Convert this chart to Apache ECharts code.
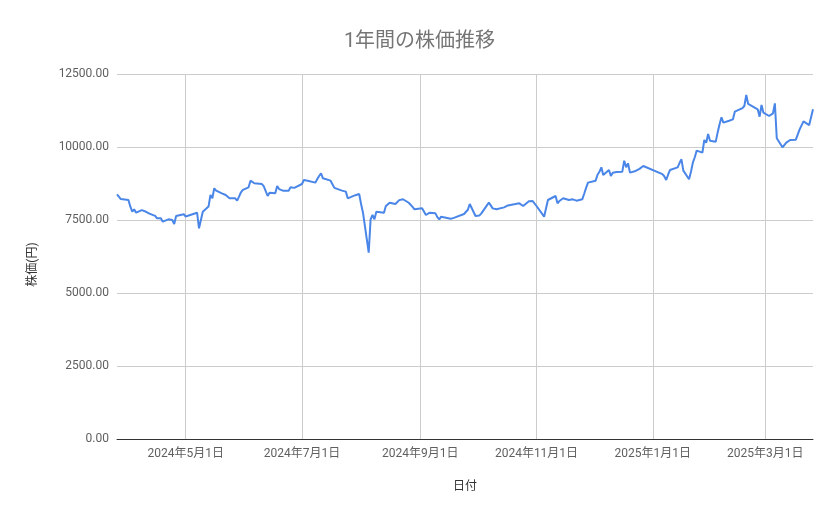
<!DOCTYPE html>
<html>
<head>
<meta charset="utf-8">
<script src="https://cdn.jsdelivr.net/npm/echarts@6/dist/echarts.min.js"></script>
<style>
html,body{margin:0;padding:0;background:#fff;}
#chart{width:839px;height:519px;}
</style>
</head>
<body>
<div id="chart"></div>
<script>
const titleText = '1年間の株価推移';
const xAxisName = '日付';
const yAxisName = '株価(円)';
const yTicks = [0, 2500, 5000, 7500, 10000, 12500];
const xTickDates = ['2024-05-01','2024-07-01','2024-09-01','2024-11-01','2025-01-01','2025-03-01'];
const xRange = ['2024-03-26','2025-03-26'];

const dates = [
'2024-03-26','2024-03-27','2024-03-28','2024-03-29','2024-04-01','2024-04-02','2024-04-03','2024-04-04','2024-04-05',
'2024-04-08','2024-04-09','2024-04-10','2024-04-11','2024-04-12','2024-04-15','2024-04-16','2024-04-17','2024-04-18','2024-04-19',
'2024-04-22','2024-04-23','2024-04-24','2024-04-25','2024-04-26','2024-04-30','2024-05-01','2024-05-02',
'2024-05-07','2024-05-08','2024-05-09','2024-05-10','2024-05-13','2024-05-14','2024-05-15','2024-05-16','2024-05-17',
'2024-05-20','2024-05-21','2024-05-22','2024-05-23','2024-05-24','2024-05-27','2024-05-28','2024-05-29','2024-05-30','2024-05-31',
'2024-06-03','2024-06-04','2024-06-05','2024-06-06','2024-06-07','2024-06-10','2024-06-11','2024-06-12','2024-06-13','2024-06-14',
'2024-06-17','2024-06-18','2024-06-19','2024-06-20','2024-06-21','2024-06-24','2024-06-25','2024-06-26','2024-06-27','2024-06-28',
'2024-07-01','2024-07-02','2024-07-03','2024-07-04','2024-07-05','2024-07-08','2024-07-09','2024-07-10','2024-07-11','2024-07-12',
'2024-07-16','2024-07-17','2024-07-18','2024-07-19','2024-07-22','2024-07-23','2024-07-24','2024-07-25','2024-07-26',
'2024-07-29','2024-07-30','2024-07-31','2024-08-01','2024-08-02','2024-08-05','2024-08-06','2024-08-07','2024-08-08','2024-08-09',
'2024-08-13','2024-08-14','2024-08-15','2024-08-16','2024-08-19','2024-08-20','2024-08-21','2024-08-22','2024-08-23',
'2024-08-26','2024-08-27','2024-08-28','2024-08-29','2024-08-30','2024-09-02','2024-09-03','2024-09-04','2024-09-05','2024-09-06',
'2024-09-09','2024-09-10','2024-09-11','2024-09-12','2024-09-13','2024-09-17','2024-09-18','2024-09-19','2024-09-20',
'2024-09-24','2024-09-25','2024-09-26','2024-09-27','2024-09-30','2024-10-01','2024-10-02','2024-10-03','2024-10-04',
'2024-10-07','2024-10-08','2024-10-09','2024-10-10','2024-10-11','2024-10-15','2024-10-16','2024-10-17','2024-10-18',
'2024-10-21','2024-10-22','2024-10-23','2024-10-24','2024-10-25','2024-10-28','2024-10-29','2024-10-30','2024-10-31','2024-11-01',
'2024-11-05','2024-11-06','2024-11-07','2024-11-08','2024-11-11','2024-11-12','2024-11-13','2024-11-14','2024-11-15',
'2024-11-18','2024-11-19','2024-11-20','2024-11-21','2024-11-22','2024-11-25','2024-11-26','2024-11-27','2024-11-28','2024-11-29',
'2024-12-02','2024-12-03','2024-12-04','2024-12-05','2024-12-06','2024-12-09','2024-12-10','2024-12-11','2024-12-12','2024-12-13',
'2024-12-16','2024-12-17','2024-12-18','2024-12-19','2024-12-20','2024-12-23','2024-12-24','2024-12-25','2024-12-26','2024-12-27',
'2025-01-06','2025-01-07','2025-01-08','2025-01-09','2025-01-10','2025-01-14','2025-01-15','2025-01-16','2025-01-17',
'2025-01-20','2025-01-21','2025-01-22','2025-01-23','2025-01-24','2025-01-27','2025-01-28','2025-01-29','2025-01-30','2025-01-31',
'2025-02-03','2025-02-04','2025-02-05','2025-02-06','2025-02-07','2025-02-10','2025-02-12','2025-02-13','2025-02-14',
'2025-02-17','2025-02-18','2025-02-19','2025-02-20','2025-02-21','2025-02-25','2025-02-26','2025-02-27','2025-02-28',
'2025-03-03','2025-03-04','2025-03-05','2025-03-06','2025-03-07','2025-03-10','2025-03-11','2025-03-12','2025-03-13','2025-03-14',
'2025-03-17','2025-03-18','2025-03-19','2025-03-21','2025-03-24','2025-03-25','2025-03-26'
];

const prices = [
8380,8440,8219,8200,8185,7956,7785,7866,7750,
7840,7866,7790,7750,7720,7640,7557,7580,7560,7443,
7523,7510,7500,7363,7637,7700,7620,7557,
7750,7215,7500,7785,7960,8356,8243,8586,8505,
8414,8380,8356,8300,8243,8243,8162,8300,8450,8530,
8619,8847,8779,8760,8750,8733,8650,8586,8322,8436,
8414,8664,8560,8505,8505,8505,8620,8664,8600,8550,
8733,8870,8894,8847,8894,8779,8900,9007,9098,8928,
8847,8779,8600,8550,8505,8490,8471,8243,8260,
8350,8380,8390,8050,7750,6381,7523,7671,7523,7785,
7750,7979,7933,8094,8048,8094,8180,8243,8210,
8090,8048,7950,7866,7890,7899,7899,7671,7700,7750,
7728,7600,7523,7614,7590,7540,7523,7580,7637,
7705,7637,7850,8048,7637,7660,7650,7720,7785,
8094,8000,7899,7880,7866,7933,7960,8000,8014,
8048,8014,8071,8030,7979,8140,8162,8150,8128,7979,
7614,7900,8185,8200,8322,8071,8150,8200,8243,
8185,8200,8208,8190,8162,8208,8400,8600,8779,8800,
8847,9050,9150,9304,9041,9212,9007,9121,9130,9140,
9155,9532,9304,9441,9121,9180,9212,9250,9300,9349,
9070,9000,8870,9050,9212,9304,9450,9578,9190,
8894,9150,9464,9650,9875,9806,10240,10148,10445,10217,
10183,10500,10780,11018,10833,10900,10947,11210,11240,
11330,11404,11781,11473,11450,11290,11039,11438,11176,
11062,11120,11153,11496,10297,9989,10050,10150,10200,10240,
10250,10263,10605,10879,10750,10697,11290
];

function toTs(s) {
  const p = s.split('-').map(Number);
  return new Date(p[0], p[1] - 1, p[2]).getTime();
}

const seriesData = dates.map((d, i) => [toTs(d), prices[i]]);
const tickTs = xTickDates.map(toTs);

const chart = echarts.init(document.getElementById('chart'), null, {renderer: 'canvas'});
const labelColor = '#5f5f5f';
const font = 'Roboto, "Noto Sans CJK JP", sans-serif';

chart.setOption({
  animation: false,
  backgroundColor: '#ffffff',
  title: {
    text: titleText,
    left: 'center',
    top: 27,
    textStyle: {color: '#757575', fontSize: 20, fontWeight: 'normal', fontFamily: font}
  },
  grid: {left: 117, right: 26, top: 74, bottom: 80, containLabel: false},
  xAxis: {
    type: 'value',
    min: toTs(xRange[0]),
    max: toTs(xRange[1]),
    scale: true,
    name: xAxisName,
    nameLocation: 'middle',
    nameGap: 42,
    nameTextStyle: {color: '#333', fontSize: 12, fontFamily: font},
    axisLine: {show: true, lineStyle: {color: '#333', width: 1}},
    axisTick: {
      show: true,
      customValues: tickTs,
      inside: true,
      length: 365,
      lineStyle: {color: '#cccccc', width: 1}
    },
    axisLabel: {
      customValues: tickTs,
      color: labelColor,
      fontSize: 12,
      fontFamily: font,
      margin: 9,
      showMinLabel: true,
      showMaxLabel: true,
      formatter: function (v) {
        const d = new Date(v);
        return d.getFullYear() + '年' + (d.getMonth() + 1) + '月' + d.getDate() + '日';
      }
    },
    splitLine: {show: false}
  },
  yAxis: {
    type: 'value',
    min: yTicks[0],
    max: yTicks[yTicks.length - 1],
    interval: yTicks[1] - yTicks[0],
    name: yAxisName,
    nameLocation: 'middle',
    nameGap: 78,
    nameRotate: 90,
    nameTextStyle: {color: '#333', fontSize: 12, fontFamily: font, padding: [0, 16, 0, 0]},
    axisLine: {show: false},
    axisTick: {show: false},
    axisLabel: {
      color: labelColor,
      fontSize: 12,
      fontFamily: font,
      margin: 8,
      formatter: function (v) { return v.toFixed(2); }
    },
    splitLine: {show: true, lineStyle: {color: '#cccccc', width: 1}}
  },
  series: [{
    type: 'line',
    data: seriesData,
    showSymbol: false,
    symbol: 'none',
    lineStyle: {color: '#4a86e8', width: 2},
    itemStyle: {color: '#4a86e8'},
    z: 5
  }]
});
</script>
</body>
</html>
